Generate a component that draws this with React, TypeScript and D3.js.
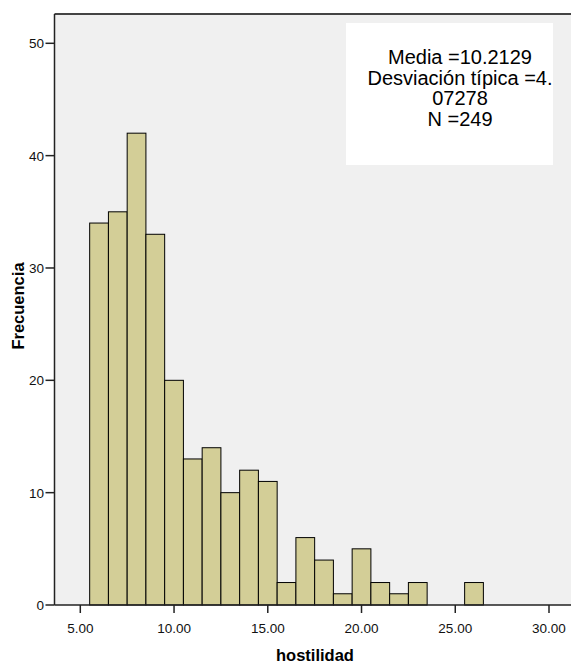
import React from "react";
import * as d3 from "d3";

// histogram bins (width 1) and their frequencies
const binStarts = [5.5, 6.5, 7.5, 8.5, 9.5, 10.5, 11.5, 12.5, 13.5, 14.5, 15.5, 16.5, 17.5, 18.5, 19.5, 20.5, 21.5, 22.5, 23.5, 24.5, 25.5];
const counts = [34, 35, 42, 33, 20, 13, 14, 10, 12, 11, 2, 6, 4, 1, 5, 2, 1, 2, 0, 0, 2];
const binWidth = 1;

const xTicks = [5, 10, 15, 20, 25, 30];
const yTicks = [0, 10, 20, 30, 40, 50];
const statsLines = ["Media =10.2129", "Desviación típica =4.", "07278", "N =249"];

const W = 571;
const H = 665;
const frame = { left: 54.5, top: 14, right: 571, bottom: 605 };

const App = () => {
  const x = d3.scaleLinear().domain([5, 30]).range([80.3, 549]);
  const y = d3.scaleLinear().domain([0, 50]).range([605, 43.3]);
  const font = "Arial, 'Liberation Sans', sans-serif";

  return (
    <svg
      width={W}
      height={H}
      style={{ position: "absolute", left: 0, top: 0, background: "#fff" }}
      fontFamily={font}
    >
      {/* plot background */}
      <rect
        x={frame.left}
        y={frame.top}
        width={frame.right - frame.left}
        height={frame.bottom - frame.top}
        fill="#f0f0f0"
      />
      {/* stats box */}
      <rect x={346} y={23} width={207} height={142} fill="#ffffff" />
      {statsLines.map((t, i) => (
        <text key={i} x={460} y={64 + i * 20.6} fontSize={20} textAnchor="middle" fill="#000">
          {t}
        </text>
      ))}

      {/* bars */}
      {binStarts.map((b, i) =>
        counts[i] > 0 ? (
          <rect
            key={i}
            x={x(b)}
            y={y(counts[i])}
            width={x(b + binWidth) - x(b)}
            height={y(0) - y(counts[i])}
            fill="#d3ce97"
            stroke="#000"
            strokeWidth={1}
          />
        ) : null
      )}

      {/* frame lines */}
      <line x1={frame.left} x2={frame.right} y1={frame.top} y2={frame.top} stroke="#444" strokeWidth={2} />
      <line x1={frame.left} x2={frame.left} y1={frame.top} y2={frame.bottom} stroke="#222" strokeWidth={1.5} />
      <line x1={frame.left} x2={frame.right} y1={frame.bottom} y2={frame.bottom} stroke="#222" strokeWidth={1.5} />

      {/* y axis */}
      {yTicks.map((t) => (
        <g key={t}>
          <line x1={frame.left - 9} x2={frame.left} y1={y(t)} y2={y(t)} stroke="#222" strokeWidth={1.5} />
          <text x={44} y={y(t) + 5} fontSize={13.5} textAnchor="end" fill="#111">
            {t}
          </text>
        </g>
      ))}

      {/* x axis */}
      {xTicks.map((t) => (
        <g key={t}>
          <line x1={x(t)} x2={x(t)} y1={frame.bottom} y2={frame.bottom + 8} stroke="#222" strokeWidth={1.5} />
          <text x={x(t)} y={633} fontSize={13.5} textAnchor="middle" fill="#111">
            {d3.format(".2f")(t)}
          </text>
        </g>
      ))}

      <text x={315} y={661} fontSize={16.5} fontWeight="bold" textAnchor="middle" fill="#000">
        hostilidad
      </text>
      <text
        transform={`translate(24,306) rotate(-90)`}
        fontSize={16.5}
        fontWeight="bold"
        textAnchor="middle"
        fill="#000"
      >
        Frecuencia
      </text>
    </svg>
  );
};

export default App;
